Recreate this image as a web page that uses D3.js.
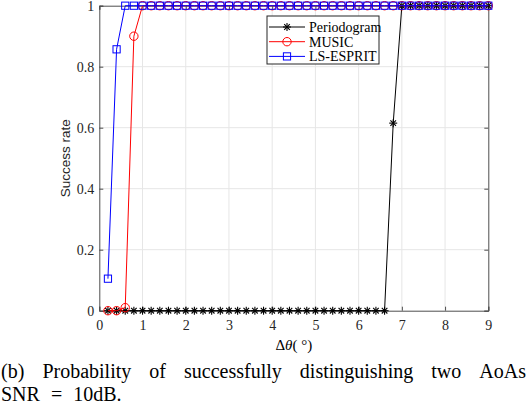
<!DOCTYPE html>
<html lang="en">
<head>
<meta charset="utf-8">
<title>Success rate vs angle separation</title>
<script src="https://cdn.jsdelivr.net/npm/d3@7"></script>
<style>
  body { margin: 0; background: #fff; }
  text { font-family: "Liberation Serif", "Times New Roman", serif; }
</style>
</head>
<body>
<script>
// angle separation (degrees)
var angles = [0.2, 0.4, 0.6, 0.8, 1.0, 1.2, 1.4, 1.6, 1.8, 2.0,
              2.2, 2.4, 2.6, 2.8, 3.0, 3.2, 3.4, 3.6, 3.8, 4.0,
              4.2, 4.4, 4.6, 4.8, 5.0, 5.2, 5.4, 5.6, 5.8, 6.0,
              6.2, 6.4, 6.6, 6.8, 7.0, 7.2, 7.4, 7.6, 7.8, 8.0,
              8.2, 8.4, 8.6, 8.8, 9.0];
var periodogram = [0, 0, 0, 0, 0, 0, 0, 0, 0, 0,
                   0, 0, 0, 0, 0, 0, 0, 0, 0, 0,
                   0, 0, 0, 0, 0, 0, 0, 0, 0, 0,
                   0, 0, 0, 0.615, 1, 1, 1, 1, 1, 1,
                   1, 1, 1, 1, 1];
var music = [0, 0, 0.01, 0.9, 1, 1, 1, 1, 1, 1,
             1, 1, 1, 1, 1, 1, 1, 1, 1, 1,
             1, 1, 1, 1, 1, 1, 1, 1, 1, 1,
             1, 1, 1, 1, 1, 1, 1, 1, 1, 1,
             1, 1, 1, 1, 1];
var esprit = [0.105, 0.857, 1, 1, 1, 1, 1, 1, 1, 1,
              1, 1, 1, 1, 1, 1, 1, 1, 1, 1,
              1, 1, 1, 1, 1, 1, 1, 1, 1, 1,
              1, 1, 1, 1, 1, 1, 1, 1, 1, 1,
              1, 1, 1, 1, 1];
var xTicks = [0, 1, 2, 3, 4, 5, 6, 7, 8, 9];
var yTicks = [0, 0.2, 0.4, 0.6, 0.8, 1];
var seriesNames = ["Periodogram", "MUSIC", "LS-ESPRIT"];

var w = 530, h = 408;
var pL = 99.3, pR = 488.3, pT = 5.7, pB = 310.7;
var serif = "'Liberation Serif', 'Times New Roman', serif";

var svg = d3.select("body").append("svg")
            .attr("width", w)
            .attr("height", h);

var x = d3.scaleLinear().domain([0, 9]).range([pL, pR]);
var y = d3.scaleLinear().domain([0, 1]).range([pB, pT]);

// grid
svg.append("g").selectAll("line")
   .data(xTicks.slice(1, -1))
   .enter().append("line")
   .attr("x1", function(d){ return x(d); })
   .attr("x2", function(d){ return x(d); })
   .attr("y1", pT).attr("y2", pB)
   .attr("stroke", "#e6e6e6").attr("stroke-width", 1);
svg.append("g").selectAll("line")
   .data(yTicks.slice(1, -1))
   .enter().append("line")
   .attr("y1", function(d){ return y(d); })
   .attr("y2", function(d){ return y(d); })
   .attr("x1", pL).attr("x2", pR)
   .attr("stroke", "#e6e6e6").attr("stroke-width", 1);

// axes
var axisColor = "#4d4d4d";
var xAxis = svg.append("g")
   .attr("transform", "translate(0," + pB + ")")
   .call(d3.axisBottom(x).tickValues(xTicks).tickSize(-4).tickPadding(9).tickFormat(d3.format("d")));
var xTop = svg.append("g")
   .attr("transform", "translate(0," + pT + ")")
   .call(d3.axisTop(x).tickValues(xTicks).tickSize(-4).tickFormat(""));
var yAxis = svg.append("g")
   .attr("transform", "translate(" + pL + ",0)")
   .call(d3.axisLeft(y).tickValues(yTicks).tickSize(-4).tickPadding(5).tickFormat(function(d){ return d; }));
var yRight = svg.append("g")
   .attr("transform", "translate(" + pR + ",0)")
   .call(d3.axisRight(y).tickValues(yTicks).tickSize(-4).tickFormat(""));

[xAxis, xTop, yAxis, yRight].forEach(function(g){
  g.attr("font-family", serif).attr("font-size", 14);
  g.selectAll("path").attr("stroke", axisColor).attr("stroke-width", 1);
  g.selectAll("line").attr("stroke", axisColor);
  g.selectAll("text")
   .attr("fill", "#262626")
   .style("font-family", serif)
   .style("font-size", "14px");
});
xAxis.selectAll("text").attr("dy", "0.71em");

// series
var series = [
  { name: seriesNames[0], values: periodogram, color: "#000000", marker: "star" },
  { name: seriesNames[1], values: music, color: "#ff0000", marker: "circle" },
  { name: seriesNames[2], values: esprit, color: "#0000ff", marker: "square" }
];

var line = d3.line()
   .x(function(d){ return x(d[0]); })
   .y(function(d){ return y(d[1]); });

function drawMarker(g, type, color) {
  if (type === "circle") {
    g.append("circle").attr("r", 4.2)
     .attr("fill", "none").attr("stroke", color).attr("stroke-width", 1);
  } else if (type === "square") {
    g.append("rect").attr("x", -3.6).attr("y", -3.6)
     .attr("width", 7.2).attr("height", 7.2)
     .attr("fill", "none").attr("stroke", color).attr("stroke-width", 1);
  } else {
    var r = 4;
    var pts = [[-r, 0, r, 0], [0, -r, 0, r],
               [-r * 0.7, -r * 0.7, r * 0.7, r * 0.7],
               [-r * 0.7, r * 0.7, r * 0.7, -r * 0.7]];
    pts.forEach(function(p){
      g.append("line").attr("x1", p[0]).attr("y1", p[1])
       .attr("x2", p[2]).attr("y2", p[3])
       .attr("stroke", color).attr("stroke-width", 1.1);
    });
  }
}

series.forEach(function(s){
  var pts = angles.map(function(a, i){ return [a, s.values[i]]; });
  svg.append("path")
     .datum(pts)
     .attr("d", line)
     .attr("fill", "none")
     .attr("stroke", s.color)
     .attr("stroke-width", 1);
  svg.append("g").selectAll("g")
     .data(pts)
     .enter().append("g")
     .attr("transform", function(d){ return "translate(" + x(d[0]) + "," + y(d[1]) + ")"; })
     .each(function(){ drawMarker(d3.select(this), s.marker, s.color); });
});

// legend
var lg = svg.append("g").attr("transform", "translate(267,16)");
lg.append("rect").attr("width", 112).attr("height", 48)
  .attr("fill", "#fff").attr("stroke", "#262626").attr("stroke-width", 1);
series.forEach(function(s, i){
  var row = lg.append("g").attr("transform", "translate(0," + (11 + i * 14.7) + ")");
  row.append("line").attr("x1", 2).attr("x2", 38).attr("y1", 0).attr("y2", 0)
     .attr("stroke", s.color).attr("stroke-width", 1);
  var m = row.append("g").attr("transform", "translate(20,0)");
  drawMarker(m, s.marker, s.color);
  row.append("text").attr("x", 42).attr("y", 4.8)
     .style("font-family", serif)
     .style("font-size", "14px").attr("fill", "#000")
     .text(s.name);
});

// axis labels
svg.append("text")
   .attr("x", (pL + pR) / 2).attr("y", 350)
   .attr("text-anchor", "middle")
   .style("font-family", serif)
   .style("font-size", "15px")
   .html("&#916;<tspan font-style=\"italic\">&#952;</tspan>( &#176;)");

svg.append("text")
   .attr("transform", "translate(70," + ((pT + pB) / 2) + ") rotate(-90)")
   .attr("text-anchor", "middle")
   .style("font-family", "'Liberation Sans', Arial, sans-serif")
   .style("font-size", "13.5px")
   .attr("fill", "#262626")
   .text("Success rate");

// caption, first line justified
var words = ["(b)", "Probability", "of", "successfully", "distinguishing", "two", "AoAs"];
var cap = svg.append("g");
var widths = [];
words.forEach(function(wd){
  var t = cap.append("text").attr("y", 378)
             .style("font-family", serif)
             .style("font-size", "20px").text(wd);
  widths.push(t.node().getComputedTextLength());
});
var capLeft = 1, capRight = 526;
var gap = (capRight - capLeft - d3.sum(widths)) / (words.length - 1);
var cx = capLeft;
cap.selectAll("text").each(function(d, i){
  d3.select(this).attr("x", cx);
  cx += widths[i] + gap;
});
svg.append("text")
   .attr("x", 1).attr("y", 401)
   .style("font-family", serif)
   .style("font-size", "20px")
   .style("word-spacing", "6px")
   .text("SNR = 10dB.");
</script>
</body>
</html>
